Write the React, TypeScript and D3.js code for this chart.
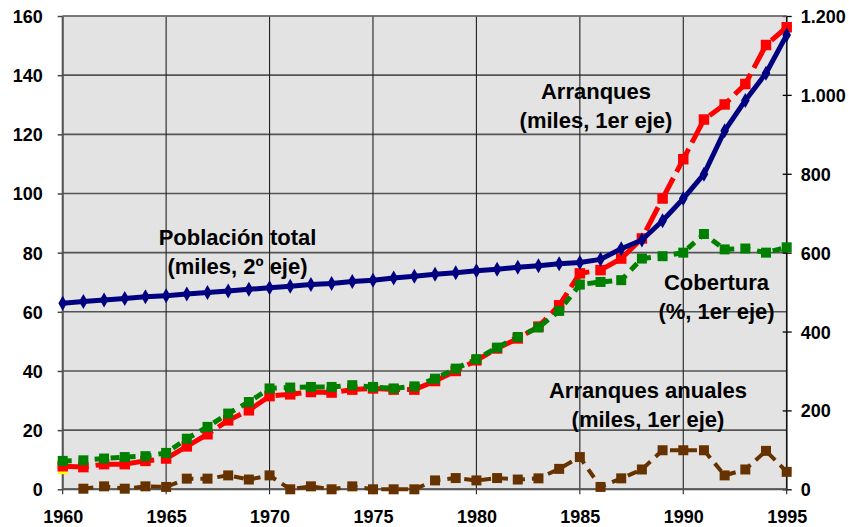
import React, { useEffect, useRef } from 'react';
import * as d3 from 'd3';

// years 1960..1995
const years = d3.range(1960, 1996);

// Población total (miles, 2º eje)
const poblacion = [472, 476, 480, 484, 488, 491, 495, 499, 503, 507, 511, 515, 519, 522, 527, 530,
  536, 540, 545, 549, 554, 558, 563, 567, 572, 575, 583, 610, 632, 681, 737, 799, 909, 986, 1055, 1152];

// Arranques (miles, 1er eje)
const arranques = [7.8, 7.5, 8.5, 8.5, 9.6, 10.4, 14.5, 18.6, 23.3, 26.7, 31.5, 32.1, 32.9, 32.7, 33.7, 34.1,
  33.7, 33.7, 36.6, 40, 43.6, 47.6, 51, 55, 62.2, 73, 74.1, 78, 84.8, 98.3, 111.6, 125, 130.1, 137, 150.2, 156.2];

// Cobertura (%, 1er eje)
const cobertura = [9.6, 9.8, 10.4, 10.9, 11.2, 12.3, 17.1, 21.1, 25.6, 29.5, 34.1, 34.4, 34.6, 34.6, 35.2, 34.6,
  34.1, 34.8, 37.4, 40.8, 44, 47.9, 51.5, 54.7, 60.3, 69.2, 70.1, 70.7, 78, 78.8, 80, 86.3, 81.1, 81.4, 80, 81.8];

// Arranques anuales (miles, 1er eje), from 1961
const anualesYears = d3.range(1961, 1996);
const anuales = [0.2, 1, 0.2, 1, 0.8, 3.6, 3.6, 4.7, 3.3, 4.7, 0, 1, 0, 1, 0, 0, 0, 3, 3.8, 3,
  3.8, 3.3, 3.7, 6.9, 10.9, 0.8, 3.7, 6.7, 13.2, 13.2, 13.2, 4.7, 6.7, 13, 5.9];

// lone yellow marker at 1960
const marcadorYears = [1960];
const marcador = [6.7];

const leftTicks = [0, 20, 40, 60, 80, 100, 120, 140, 160];
const rightTicks = [0, 200, 400, 600, 800, 1000, 1200];
const yearTicks = [1960, 1965, 1970, 1975, 1980, 1985, 1990, 1995];

const W = 849, H = 527;
const margin = { top: 16, right: 62.3, bottom: 37.7, left: 62.7 };

const esLocale = d3.formatLocale({ decimal: ',', thousands: '.', grouping: [3], currency: ['', '€'] });

function drawChart(el: SVGSVGElement) {
  const svg = d3.select(el);
  svg.selectAll('*').remove();
  const w = W - margin.left - margin.right;
  const h = H - margin.top - margin.bottom;

  const x = d3.scaleLinear().domain([1960, 1995]).range([0, w]);
  const yL = d3.scaleLinear().domain([0, 160]).range([h, 0]);
  const yR = d3.scaleLinear().domain([0, 1200]).range([h, 0]);

  const g = svg.append('g').attr('transform', `translate(${margin.left},${margin.top})`);
  const font = '"Liberation Sans", Arial, sans-serif';

  g.append('rect').attr('width', w).attr('height', h).attr('fill', '#e3e3e3');

  // grid
  g.selectAll('.hgrid').data(leftTicks).enter().append('line')
    .attr('x1', 0).attr('x2', w)
    .attr('y1', d => yL(d)).attr('y2', d => yL(d))
    .attr('stroke', '#555').attr('stroke-width', 1.6);
  g.selectAll('.vgrid').data(yearTicks).enter().append('line')
    .attr('x1', d => x(d)).attr('x2', d => x(d))
    .attr('y1', 0).attr('y2', h + 5)
    .attr('stroke', '#222').attr('stroke-width', 1.1);

  // axes
  const styleAxis = (sel: any) => {
    sel.select('.domain').remove();
    sel.selectAll('text').attr('font-family', font).attr('font-size', 18).attr('font-weight', 'bold').attr('fill', '#000');
  };
  const la = g.append('g')
    .call(d3.axisLeft(yL).tickValues(leftTicks).tickSize(5).tickPadding(15));
  styleAxis(la);
  la.selectAll('line').attr('stroke', '#444').attr('stroke-width', 1.5);
  la.selectAll('text').attr('dy', '0.36em');

  const ra = g.append('g').attr('transform', `translate(${w},0)`)
    .call(d3.axisRight(yR).tickValues(rightTicks).tickSize(5).tickPadding(9).tickFormat(esLocale.format(',')));
  styleAxis(ra);
  ra.selectAll('line').attr('x1', -4).attr('stroke', '#000').attr('stroke-width', 1.3);
  ra.selectAll('text').attr('dy', '0.36em');

  const ba = g.append('g').attr('transform', `translate(0,${h})`)
    .call(d3.axisBottom(x).tickValues(yearTicks).tickSize(0).tickPadding(21).tickFormat(d3.format('d')));
  styleAxis(ba);

  // axis lines
  g.append('line').attr('x1', 0).attr('x2', 0).attr('y1', 0).attr('y2', h).attr('stroke', '#555').attr('stroke-width', 2);
  g.append('line').attr('x1', w).attr('x2', w).attr('y1', 0).attr('y2', h).attr('stroke', '#111').attr('stroke-width', 1.5);
  g.append('line').attr('x1', 0).attr('x2', w).attr('y1', 0).attr('y2', 0).attr('stroke', '#777').attr('stroke-width', 1.5);
  g.append('line').attr('x1', 0).attr('x2', w).attr('y1', h).attr('y2', h).attr('stroke', '#555').attr('stroke-width', 2);

  const series = (xs: number[], vs: number[], y: d3.ScaleLinear<number, number>, color: string,
    width: number, dash: string | null, marker: 'square' | 'diamond', msize: number) => {
    const pts = xs.map((yr, i) => [x(yr), y(vs[i])] as [number, number]);
    const line = d3.line<[number, number]>();
    g.append('path').attr('d', line(pts)).attr('fill', 'none')
      .attr('stroke', color).attr('stroke-width', width)
      .attr('stroke-dasharray', dash)
      .attr('stroke-linejoin', 'round');
    const sym = d3.symbol().type(marker === 'square' ? d3.symbolSquare : d3.symbolDiamond).size(msize);
    g.selectAll(null).data(pts).enter().append('path')
      .attr('d', sym())
      .attr('transform', d => `translate(${d[0]},${d[1]})`)
      .attr('fill', color);
  };

  series(marcadorYears, marcador, yL, '#ffff00', 4, null, 'square', 90);
  series(years, arranques, yL, '#ff0000', 5, '26,7', 'square', 110);
  series(years, cobertura, yL, '#008000', 5, '9,7', 'square', 100);
  series(anualesYears, anuales, yL, '#663300', 4, '10,7', 'square', 100);
  series(years, poblacion, yR, '#000080', 5, null, 'diamond', 65);

  // annotations
  const labels = [
    { lines: ['Arranques', '(miles, 1er eje)'], cx: 596, y: 99 },
    { lines: ['Población total', '(miles, 2º eje)'], cx: 237.5, y: 245 },
    { lines: ['Cobertura', '(%, 1er eje)'], cx: 716.5, y: 290 },
    { lines: ['Arranques anuales', '(miles, 1er eje)'], cx: 648, y: 398 },
  ];
  labels.forEach(l => {
    l.lines.forEach((t, i) => {
      svg.append('text')
        .attr('x', l.cx).attr('y', l.y + i * 29)
        .attr('text-anchor', 'middle')
        .attr('font-family', font).attr('font-size', 22).attr('font-weight', 'bold')
        .attr('fill', '#000')
        .text(t);
    });
  });
}

export default function App() {
  const ref = useRef<SVGSVGElement>(null);
  useEffect(() => {
    if (ref.current) drawChart(ref.current);
  }, []);
  return (
    <svg ref={ref} width={W} height={H}
      style={{ position: 'absolute', left: 0, top: 0, background: '#fff' }} />
  );
}
